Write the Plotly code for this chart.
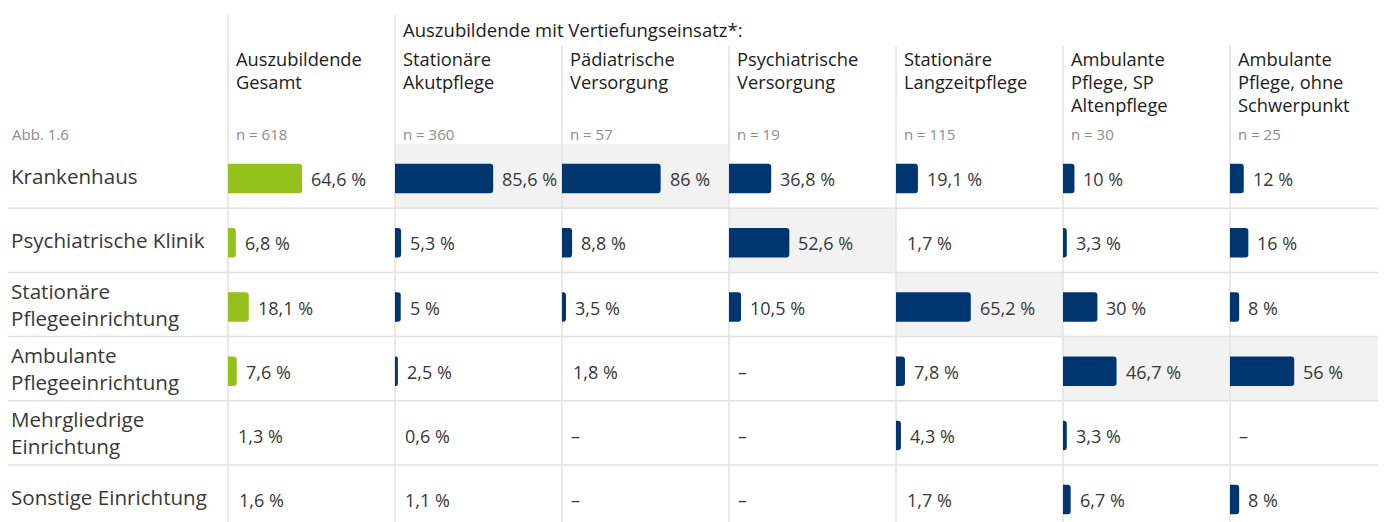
import plotly.graph_objects as go

# ---------------- data ----------------
row_labels = ["Krankenhaus", "Psychiatrische Klinik", "Stationäre<br>Pflegeeinrichtung",
              "Ambulante<br>Pflegeeinrichtung", "Mehrgliedrige<br>Einrichtung", "Sonstige Einrichtung"]
row_keys = [r.replace("<br>", " ") for r in row_labels]

col_titles = [["Auszubildende", "Gesamt"],
              ["Stationäre", "Akutpflege"],
              ["Pädiatrische", "Versorgung"],
              ["Psychiatrische", "Versorgung"],
              ["Stationäre", "Langzeitpflege"],
              ["Ambulante", "Pflege, SP", "Altenpflege"],
              ["Ambulante", "Pflege, ohne", "Schwerpunkt"]]
col_n = [618, 360, 57, 19, 115, 30, 25]
super_title = "Auszubildende mit Vertiefungseinsatz*:"
fig_label = "Abb. 1.6"

gesamt = [64.6, 6.8, 18.1, 7.6, 1.3, 1.6]
akut = [85.6, 5.3, 5, 2.5, 0.6, 1.1]
paed = [86, 8.8, 3.5, 1.8, None, None]
psych = [36.8, 52.6, 10.5, None, None, None]
langzeit = [19.1, 1.7, 65.2, 7.8, 4.3, 1.7]
amb_sp = [10, 3.3, 30, 46.7, 3.3, 6.7]
amb_ohne = [12, 16, 8, 56, None, 8]
columns = [gesamt, akut, paed, psych, langzeit, amb_sp, amb_ohne]

# ---------------- style / layout ----------------
OFF = 8                      # page body margin
W, H = 1386 - OFF, 522 - OFF
ML, MT = 228 - OFF, 144 - OFF
PW, PH = W - ML, H - MT
COL_W = 167
PX_PER_PCT = 1.147
ROW_H = 64.2
BAR_H = 29.5 / ROW_H
BAR_SHIFT = 2.5 / ROW_H
GREEN = "#95C11F"
NAVY = "#003670"
GRID = "#e2e2e2"
HILITE = "#f2f2f2"
TXT = "#383838"
HEAD = "#1c1c1c"
GREY = "#8c8c8c"
FONT = "Open Sans"


def px_x(px):
    return (px - OFF - ML) / PW


def px_y(py):
    return (H - (py - OFF)) / PH


def fmt(v):
    if v is None:
        return "–"
    return f"{v:g}".replace(".", ",") + " %"


fig = go.Figure()
layout_axes = {}
shapes = []
annotations = []

# highlight cells (max per column, Vertiefungseinsatz columns)
for i, vals in enumerate(columns):
    d0 = i * COL_W / PW
    d1 = min(1.0, (i + 1) * COL_W / PW)
    if i > 0:
        valid = [(v, k) for k, v in enumerate(vals) if v is not None]
        vmax, kmax = max(valid)
        shapes.append(dict(type="rect", xref="paper", yref="y", x0=d0, x1=d1,
                           y0=kmax - 0.5, y1=kmax + 0.5, fillcolor=HILITE,
                           line=dict(width=0), layer="below"))

# row separators
for k in range(len(row_keys) - 1):
    shapes.append(dict(type="line", xref="paper", yref="y", x0=px_x(5), x1=1,
                       y0=k + 0.5, y1=k + 0.5, line=dict(color=GRID, width=1.5), layer="below"))

for i, vals in enumerate(columns):
    ax_name = "x" if i == 0 else f"x{i + 1}"
    layout_key = "xaxis" if i == 0 else f"xaxis{i + 1}"
    d0 = i * COL_W / PW
    d1 = min(1.0, (i + 1) * COL_W / PW)
    rng = (d1 - d0) * PW / PX_PER_PCT
    layout_axes[layout_key] = dict(domain=[d0, d1], range=[0, rng], visible=False,
                                   fixedrange=True, anchor="y")
    color = GREEN if i == 0 else NAVY
    bar_x = [v if (v is not None and v >= 2) else None for v in vals]
    fig.add_trace(go.Bar(x=bar_x, y=row_keys, orientation="h", xaxis=ax_name, yaxis="y",
                         width=BAR_H, offset=-BAR_H / 2 + BAR_SHIFT,
                         marker=dict(color=color, cornerradius=3, line=dict(width=0)),
                         hoverinfo="skip", showlegend=False))
    # value labels
    for k, v in enumerate(vals):
        annotations.append(dict(xref=ax_name, yref="y", x=(v if v is not None else 0), y=row_keys[k],
                                text=fmt(v), showarrow=False, xanchor="left", yanchor="middle",
                                xshift=7, yshift=-3, font=dict(size=18, color=TXT, family=FONT)))
    # column vertical line
    top_px = 15 if i <= 1 else 46
    shapes.append(dict(type="line", xref="paper", yref="paper", x0=d0, x1=d0,
                       y0=0, y1=px_y(top_px), line=dict(color=GRID, width=1.5), layer="below"))
    # headers
    for li, line in enumerate(col_titles[i]):
        annotations.append(dict(xref="paper", yref="paper", x=d0, y=px_y(58 + 23.5 * li),
                                text=line, showarrow=False, xanchor="left", yanchor="middle",
                                xshift=6, font=dict(size=18.3, color=HEAD, family=FONT)))
    annotations.append(dict(xref="paper", yref="paper", x=d0, y=px_y(134),
                            text=f"n = {col_n[i]}", showarrow=False, xanchor="left",
                            yanchor="middle", xshift=6, font=dict(size=15, color=GREY, family=FONT)))

annotations.append(dict(xref="paper", yref="paper", x=COL_W / PW, y=px_y(30),
                        text=super_title, showarrow=False, xanchor="left", yanchor="middle",
                        xshift=6, font=dict(size=18.5, color=HEAD, family=FONT)))
annotations.append(dict(xref="paper", yref="paper", x=px_x(10), y=px_y(134),
                        text=fig_label, showarrow=False, xanchor="left", yanchor="middle",
                        font=dict(size=15, color=GREY, family=FONT)))
for k, lab in enumerate(row_labels):
    annotations.append(dict(xref="paper", yref="y", x=px_x(9), y=row_keys[k], text=lab,
                            showarrow=False, xanchor="left", yanchor="middle", align="left",
                            font=dict(size=20.6, color=TXT, family=FONT)))

fig.update_layout(
    width=W, height=H,
    margin=dict(l=ML, r=0, t=MT, b=0, pad=0),
    paper_bgcolor="white", plot_bgcolor="rgba(0,0,0,0)",
    yaxis=dict(type="category", categoryorder="array", categoryarray=row_keys,
               range=[-0.5 + PH / ROW_H, -0.5], visible=False, fixedrange=True),
    shapes=shapes, annotations=annotations,
    font=dict(family=FONT, color=TXT),
    **layout_axes,
)

fig.write_html("out.html", config={"displayModeBar": False})
